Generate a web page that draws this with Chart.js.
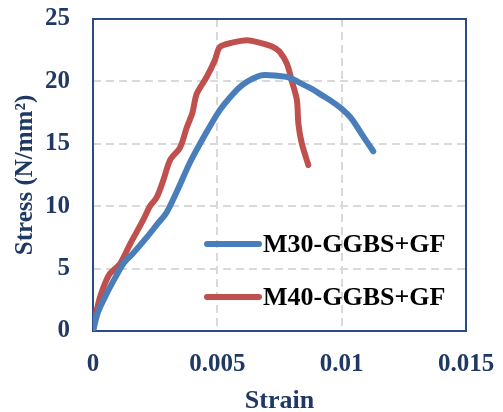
<!DOCTYPE html>
<html>
<head>
<meta charset="utf-8">
<script src="https://cdn.jsdelivr.net/npm/chart.js@4"></script>
<style>
  html, body { margin: 0; padding: 0; background: #fff; }
  #wrap { width: 503px; height: 412px; }
</style>
</head>
<body>
<div id="wrap"><canvas id="chart" width="503" height="412"></canvas></div>
<script>
// --- Data ---
const m30Strain = [0, 0.0002, 0.00055, 0.0009, 0.00122, 0.0016, 0.00216, 0.0026, 0.00296, 0.0034, 0.0039, 0.0045, 0.0051, 0.00563, 0.006, 0.0064, 0.0068, 0.0074, 0.0079, 0.0083, 0.0088, 0.0092, 0.0096, 0.0100, 0.0104, 0.0108, 0.01127];
const m30Stress = [0, 1.5, 3.0, 4.3, 5.4, 6.2, 7.5, 8.6, 9.5, 11.3, 13.5, 15.7, 17.7, 19.0, 19.7, 20.2, 20.5, 20.45, 20.3, 19.9, 19.4, 18.9, 18.4, 17.8, 17.0, 15.8, 14.4];

const m40Strain = [0, 0.0001, 0.00028, 0.0005, 0.00068, 0.00109, 0.0015, 0.00202, 0.00229, 0.00256, 0.00283, 0.0031, 0.0035, 0.00377, 0.004, 0.00417, 0.00457, 0.0049, 0.0051, 0.0056, 0.0062, 0.0067, 0.0072, 0.0075, 0.0078, 0.008, 0.0082, 0.00826, 0.0084, 0.00866];
const m40Stress = [0, 1.2, 2.7, 3.9, 4.6, 5.4, 7.0, 8.9, 10.0, 10.7, 12.1, 13.7, 14.7, 16.3, 17.5, 19.0, 20.35, 21.7, 22.75, 23.1, 23.3, 23.1, 22.8, 22.4, 21.4, 20.0, 18.5, 16.6, 15.0, 13.3];

const xTicks = [0, 0.005, 0.01, 0.015];
const yTicks = [0, 5, 10, 15, 20, 25];

const seriesLabels = ["M30-GGBS+GF", "M40-GGBS+GF"];
const seriesColors = ["#4A7EBB", "#C0504D"];

const navy = "#1F3864";
const serif = "'Liberation Serif', 'Times New Roman', serif";

const toPoints = (xs, ys) => xs.map((x, i) => ({ x: x, y: ys[i] }));

// --- Plugins ---
// dashed grid + frame round the plot area
const gridFrame = {
    id: "gridFrame",
    beforeDatasetsDraw(chart) {
        const { ctx, chartArea: a, scales } = chart;
        ctx.save();
        ctx.strokeStyle = "#D9D9D9";
        ctx.lineWidth = 2;
        ctx.setLineDash([8, 5]);
        xTicks.forEach(v => {
            const x = Math.round(scales.x.getPixelForValue(v));
            ctx.beginPath();
            ctx.moveTo(x, a.top);
            ctx.lineTo(x, a.bottom);
            ctx.stroke();
        });
        yTicks.forEach(v => {
            const y = Math.round(scales.y.getPixelForValue(v));
            ctx.beginPath();
            ctx.moveTo(a.left, y);
            ctx.lineTo(a.right, y);
            ctx.stroke();
        });
        ctx.setLineDash([]);
        ctx.strokeStyle = "#2B4A86";
        ctx.lineWidth = 2;
        ctx.strokeRect(a.left, a.top, a.right - a.left, a.bottom - a.top);
        ctx.restore();
    }
};

// legend sits inside the plot area
const insideLegend = {
    id: "insideLegend",
    afterDatasetsDraw(chart) {
        const ctx = chart.ctx;
        const rows = [244, 297];
        ctx.save();
        chart.data.datasets.forEach((ds, i) => {
            const y = rows[i];
            ctx.strokeStyle = ds.borderColor;
            ctx.lineWidth = 6;
            ctx.lineCap = "round";
            ctx.beginPath();
            ctx.moveTo(207, y);
            ctx.lineTo(259, y);
            ctx.stroke();
            ctx.fillStyle = "#000";
            ctx.font = "bold 26px " + serif;
            ctx.textBaseline = "middle";
            ctx.textAlign = "left";
            ctx.fillText(ds.label, 263, y + 1);
        });
        ctx.restore();
    }
};

const ctx = document.getElementById("chart").getContext("2d");

new Chart(ctx, {
    type: "line",
    data: {
        datasets: [
            {
                label: seriesLabels[0],
                data: toPoints(m30Strain, m30Stress),
                borderColor: seriesColors[0],
                borderWidth: 6,
                pointRadius: 0,
                tension: 0.3,
                borderCapStyle: "round",
                borderJoinStyle: "round"
            },
            {
                label: seriesLabels[1],
                data: toPoints(m40Strain, m40Stress),
                borderColor: seriesColors[1],
                borderWidth: 6,
                pointRadius: 0,
                tension: 0.3,
                borderCapStyle: "round",
                borderJoinStyle: "round"
            }
        ]
    },
    options: {
        responsive: false,
        animation: false,
        layout: { padding: { top: 19, right: 37, left: 0, bottom: 0 } },
        plugins: {
            legend: { display: false },
            tooltip: { enabled: false }
        },
        scales: {
            x: {
                type: "linear",
                min: 0,
                max: 0.015,
                afterFit(scale) {
                    scale.height = 81;
                    scale.paddingLeft = 0;
                    scale.paddingRight = 0;
                },
                afterBuildTicks(scale) {
                    scale.ticks = xTicks.map(v => ({ value: v }));
                },
                ticks: {
                    color: navy,
                    font: { family: serif, size: 25, weight: "bold" },
                    padding: 19,
                    maxRotation: 0,
                    callback: v => String(v)
                },
                grid: { display: false, drawTicks: false },
                border: { display: false },
                title: {
                    display: true,
                    text: "Strain",
                    color: navy,
                    font: { family: serif, size: 26, weight: "bold", lineHeight: 0.8 },
                    padding: { top: 0, bottom: 0 }
                }
            },
            y: {
                min: 0,
                max: 25,
                afterFit(scale) {
                    scale.width = 93;
                    scale.paddingTop = 0;
                    scale.paddingBottom = 0;
                },
                afterBuildTicks(scale) {
                    scale.ticks = yTicks.map(v => ({ value: v }));
                },
                ticks: {
                    color: navy,
                    font: { family: serif, size: 25, weight: "bold" },
                    padding: 23
                },
                grid: { display: false, drawTicks: false },
                border: { display: false },
                title: {
                    display: true,
                    text: "Stress (N/mm²)",
                    color: navy,
                    font: { family: serif, size: 25, weight: "bold" },
                    padding: { top: 11, bottom: 0 }
                }
            }
        }
    },
    plugins: [gridFrame, insideLegend]
});
</script>
</body>
</html>
